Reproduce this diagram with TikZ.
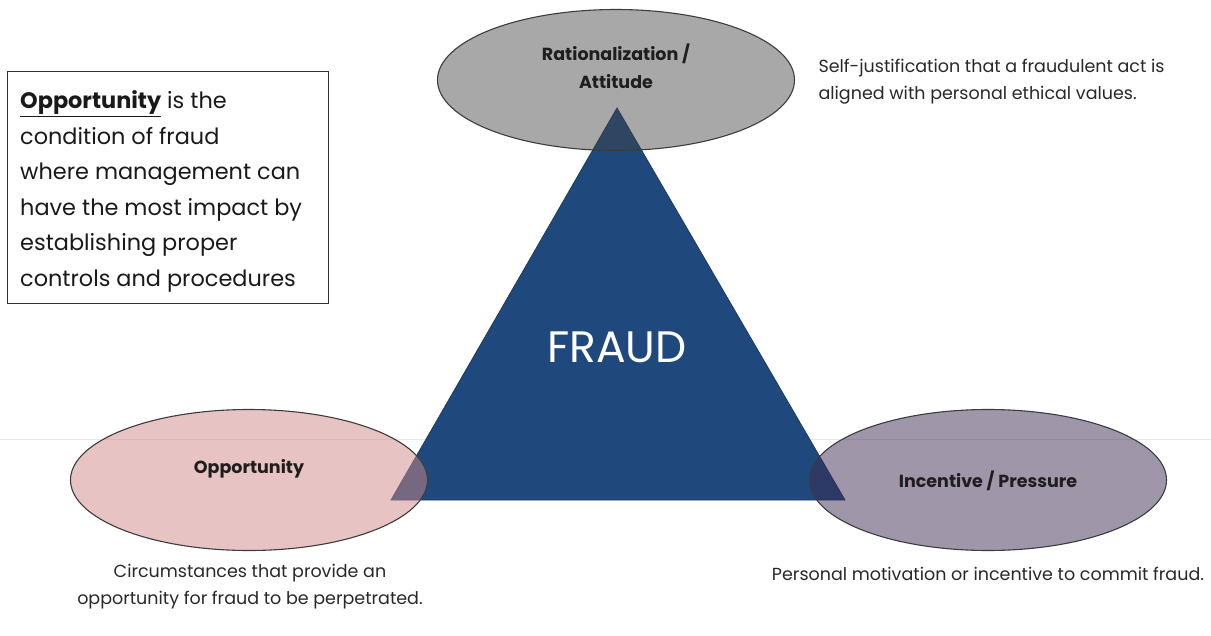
\documentclass[tikz,border=0pt]{standalone}
\usepackage{fontspec}
\setmainfont{Poppins}
\usetikzlibrary{shapes.geometric}

\definecolor{fraudblue}{RGB}{31,73,125}
\definecolor{rationfill}{RGB}{66,66,66}
\definecolor{opporfill}{RGB}{207,135,135}
\definecolor{incentfill}{RGB}{61,41,81}
\definecolor{rimline}{RGB}{60,60,60}
\definecolor{captext}{RGB}{30,30,30}
\definecolor{bodytext}{RGB}{40,40,40}

\tikzset{
  corner/.style={ellipse, draw=rimline, line width=1.1pt,
    minimum width=357pt, minimum height=141pt, inner sep=0pt},
  cornerlabel/.style={font=\fontsize{17.5}{28}\selectfont\bfseries, text=captext, align=center},
  explain/.style={font=\fontsize{17.5}{27}\selectfont, text=bodytext, align=center},
}

\begin{document}
\begin{tikzpicture}[x=1pt,y=-1pt]
  \useasboundingbox (0,0) rectangle (1211,635);

  % faint slide rule behind everything
  \draw[black!9, line width=0.8pt] (0,439) -- (1211,439);

  % the fraud triangle
  \coordinate (apex) at (617,108);
  \coordinate (baseL) at (391,500);
  \coordinate (baseR) at (845,500);
  \filldraw[fill=fraudblue, draw=fraudblue!80!black, line width=0.8pt]
    (apex) -- (baseR) -- (baseL) -- cycle;
  \node (fraud) at (617,347) [text=white, font=\fontsize{44}{44}\selectfont] {FRAUD};

  % the three corners, translucent over the triangle
  \node (ration) at (616,80) [corner, fill=rationfill, fill opacity=0.46] {};
  \node (oppor) at (249,480) [corner, fill=opporfill, fill opacity=0.5] {};
  \node (incent) at (988,480) [corner, fill=incentfill, fill opacity=0.49] {};

  \node (rationtxt) at (616,66) [cornerlabel] {Rationalization /\\Attitude};
  \node (opportxt) at (249,469) [cornerlabel] {Opportunity};
  \node (incenttxt) at (988,481) [cornerlabel] {Incentive / Pressure};

  % explanations
  \node (rationnote) at (815,82) [explain, anchor=west, align=left]
    {Self-justification that a fraudulent act is\\aligned with personal ethical values.};
  \node (oppornote) at (250,587) [explain]
    {Circumstances that provide an\\opportunity for fraud to be perpetrated.};
  \node (incentnote) at (988,574) [explain]
    {Personal motivation or incentive to commit fraud.};

  % side remark: framed box with its text
  \node (remarkbox) at (7,71) [anchor=north west, draw=black!80, line width=1pt,
    minimum width=321pt, minimum height=232pt, inner sep=0pt] {};
  \node (remark) at (20,191.5) [anchor=west, inner sep=0pt, align=left,
    font=\fontsize{22.4}{35.5}\selectfont, text=black!90]
    {\underline{\textbf{Opportunity}} is the\\condition of fraud\\where management can\\have the most impact by\\establishing proper\\controls and procedures};
\end{tikzpicture}
\end{document}
